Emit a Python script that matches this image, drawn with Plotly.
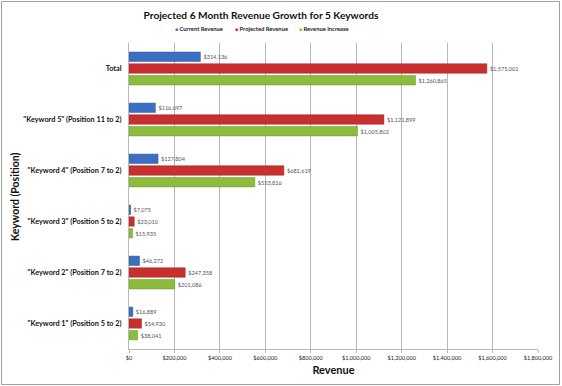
import plotly.graph_objects as go

categories = ["Total", "\"Keyword 5\" (Position 11 to 2)", "\"Keyword 4\" (Position 7 to 2)",
              "\"Keyword 3\" (Position 5 to 2)", "\"Keyword 2\" (Position 7 to 2)",
              "\"Keyword 1\" (Position 5 to 2)"]
current_revenue = [314136, 116097, 127804, 7075, 46272, 16889]
projected_revenue = [1575001, 1121899, 681619, 23010, 247358, 54930]
revenue_increase = [1260865, 1005802, 553816, 15935, 201086, 38041]
x_ticks = [0, 200000, 400000, 600000, 800000, 1000000, 1200000, 1400000, 1600000, 1800000]

series = [("Current Revenue", current_revenue, "#3b6fc2", "#2a5597"),
          ("Projected Revenue", projected_revenue, "#c92f2f", "#972020"),
          ("Revenue Increase", revenue_increase, "#8dbb3c", "#6c922b")]

FONT = "Lato, 'Open Sans', sans-serif"
W, H = 562, 386
L, R, T, B = 129, 24, 43, 37
pw, ph = W - L - R, H - T - B


def px(x):
    return (x - L) / pw


def py(y):
    return 1 - (y - T) / ph


fig = go.Figure()
for name, vals, col, line in series:
    fig.add_trace(go.Bar(
        y=categories, x=vals, name=name, orientation="h", showlegend=False,
        marker=dict(color=col, line=dict(color=line, width=0.5)),
        text=["$" + f"{v:,}" for v in vals], textposition="outside",
        textfont=dict(size=5.6, color="#555555", family=FONT), cliponaxis=False,
    ))

fig.update_layout(
    width=W, height=H, barmode="group", bargap=0.31, bargroupgap=0.2,
    margin=dict(l=L, r=R, t=T, b=B, autoexpand=False),
    paper_bgcolor="white", plot_bgcolor="white",
    font=dict(family=FONT, color="#111111"),
    title=dict(text="<b>Projected 6 Month Revenue Growth for 5 Keywords</b>",
               xref="paper", x=px(261), xanchor="center", yref="container",
               y=1 - 15 / H, yanchor="middle",
               font=dict(size=10.2, color="#111111", family=FONT)),
    xaxis=dict(range=[0, 1800000], tickvals=x_ticks,
               ticktext=["$" + f"{v:,}" for v in x_ticks],
               tickfont=dict(size=5.6, color="#222222", family=FONT),
               showgrid=True, gridcolor="#b8b8b8", gridwidth=1,
               showline=True, linecolor="#b8b8b8", linewidth=1,
               ticks="outside", ticklen=3, tickcolor="#b8b8b8",
               zeroline=False,
               title=dict(text="<b>Revenue</b>", font=dict(size=11, family=FONT, color="#111111"),
                          standoff=6)),
    yaxis=dict(autorange="reversed", showline=True, linecolor="#b8b8b8", linewidth=1,
               tickvals=categories, ticktext=["<b>" + c + "</b>" for c in categories],
               tickfont=dict(size=7.3, color="#111111", family=FONT),
               ticks="", ticklabelstandoff=5),
    showlegend=False,
)

# legend drawn as text with coloured squares
legend_items = [("Current Revenue", "#3b6fc2", 199), ("Projected Revenue", "#c92f2f", 261),
                ("Revenue Increase", "#8dbb3c", 324)]
for name, col, xc in legend_items:
    fig.add_annotation(text=f"<span style='color:{col};font-size:5px'>■</span> <b>{name}</b>",
                       showarrow=False,
                       xref="paper", yref="paper", x=px(xc), y=py(29),
                       xanchor="center", yanchor="middle",
                       font=dict(size=5.8, family=FONT, color="#222222"))

# y title as annotation (rotated)
fig.add_annotation(text="<b>Keyword (Position)</b>", textangle=-90, showarrow=False,
                   xref="paper", yref="paper", x=px(15), y=py(197),
                   xanchor="center", yanchor="middle",
                   font=dict(size=10.5, family=FONT, color="#111111"))
# outer frame
fig.add_shape(type="rect", xref="paper", yref="paper",
              x0=px(1.5), x1=px(559.5), y0=py(384.5), y1=py(1.5),
              line=dict(color="#a0a0a0", width=1), fillcolor="rgba(0,0,0,0)", layer="below")

fig.write_html("out.html", config={"displayModeBar": False},
               post_script="document.body.style.margin='0';document.body.style.padding='0';")
